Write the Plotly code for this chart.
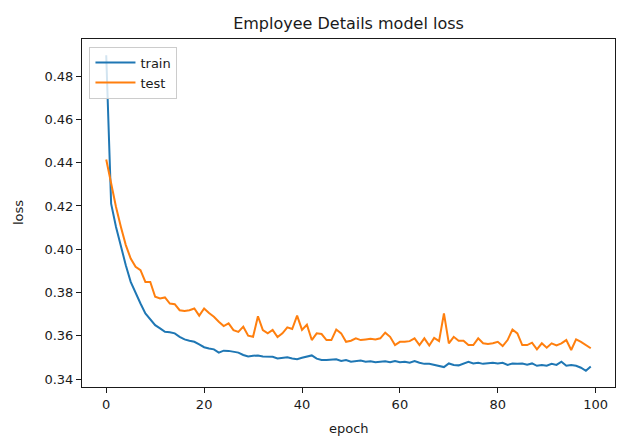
import plotly.graph_objects as go

# Per-epoch loss history of the training run
epochs = list(range(100))

train_loss = [
    0.4897, 0.4211, 0.4103, 0.4011, 0.3926, 0.3849, 0.3796, 0.3749, 0.3703, 0.3676,
    0.3649, 0.3634, 0.3618, 0.3616, 0.3611, 0.3595, 0.3583, 0.3577, 0.3572, 0.3560,
    0.3547, 0.3541, 0.3537, 0.3522, 0.3531, 0.3530, 0.3526, 0.3522, 0.3511, 0.3504,
    0.3507, 0.3509, 0.3504, 0.3505, 0.3503, 0.3495, 0.3499, 0.3500, 0.3495, 0.3491,
    0.3498, 0.3503, 0.3509, 0.3494, 0.3488, 0.3488, 0.3488, 0.3491, 0.3483, 0.3488,
    0.3480, 0.3483, 0.3485, 0.3480, 0.3482, 0.3478, 0.3480, 0.3482, 0.3478, 0.3483,
    0.3478, 0.3480, 0.3475, 0.3483, 0.3475, 0.3470, 0.3470, 0.3466, 0.3461, 0.3455,
    0.3472, 0.3465, 0.3463, 0.3472, 0.3480, 0.3472, 0.3475, 0.3470, 0.3472, 0.3475,
    0.3472, 0.3475, 0.3465, 0.3472, 0.3470, 0.3472, 0.3466, 0.3472, 0.3461, 0.3465,
    0.3461, 0.3470, 0.3465, 0.3480, 0.3461, 0.3465, 0.3461, 0.3452, 0.3438, 0.3458,
]

test_loss = [
    0.4415, 0.4300, 0.4195, 0.4103, 0.4019, 0.3957, 0.3919, 0.3903, 0.3849, 0.3849,
    0.3780, 0.3772, 0.3777, 0.3749, 0.3746, 0.3718, 0.3715, 0.3718, 0.3726, 0.3693,
    0.3726, 0.3705, 0.3688, 0.3665, 0.3645, 0.3657, 0.3626, 0.3618, 0.3642, 0.3600,
    0.3595, 0.3690, 0.3626, 0.3611, 0.3627, 0.3594, 0.3611, 0.3639, 0.3631, 0.3693,
    0.3627, 0.3651, 0.3580, 0.3611, 0.3608, 0.3580, 0.3580, 0.3629, 0.3611, 0.3572,
    0.3577, 0.3588, 0.3580, 0.3583, 0.3586, 0.3583, 0.3588, 0.3614, 0.3595, 0.3557,
    0.3572, 0.3572, 0.3575, 0.3588, 0.3557, 0.3588, 0.3555, 0.3590, 0.3575, 0.3703,
    0.3565, 0.3595, 0.3577, 0.3577, 0.3557, 0.3557, 0.3588, 0.3565, 0.3562, 0.3565,
    0.3572, 0.3552, 0.3580, 0.3629, 0.3611, 0.3557, 0.3557, 0.3568, 0.3537, 0.3565,
    0.3545, 0.3565, 0.3555, 0.3565, 0.3580, 0.3534, 0.3583, 0.3572, 0.3557, 0.3542,
]

x_ticks = [0, 20, 40, 60, 80, 100]
y_ticks = [0.34, 0.36, 0.38, 0.40, 0.42, 0.44, 0.46, 0.48]

FONT = "DejaVu Sans"
INK = "#1a1a1a"

fig = go.Figure()
fig.add_trace(go.Scatter(x=epochs, y=train_loss, mode="lines", name="train",
                         line=dict(color="#1f77b4", width=2)))
fig.add_trace(go.Scatter(x=epochs, y=test_loss, mode="lines", name="test",
                         line=dict(color="#ff7f0e", width=2)))

axis_common = dict(
    showline=True, linecolor=INK, linewidth=1, mirror=True,
    ticks="outside", ticklen=5, tickwidth=1, tickcolor=INK,
    showgrid=False, zeroline=False,
    tickfont=dict(family=FONT, size=13, color=INK),
)

fig.update_layout(
    width=617, height=437,
    margin=dict(l=82, r=2, t=39, b=50),
    paper_bgcolor="white", plot_bgcolor="white",
    font=dict(family=FONT, size=13, color=INK),
    title=dict(text="Employee Details model loss", x=0.5, xref="paper",
               y=1 - 23 / 437, yref="container", yanchor="middle",
               font=dict(family=FONT, size=16, color=INK)),
    xaxis=dict(range=[-4.95, 103.95], tickvals=x_ticks, **axis_common),
    yaxis=dict(range=[0.3363, 0.4972], tickvals=y_ticks, tickformat=".2f",
               **axis_common),
    legend=dict(x=0.014, y=0.978, xanchor="left", yanchor="top",
                bgcolor="rgba(255,255,255,0.8)", bordercolor="#cccccc",
                borderwidth=1, font=dict(family=FONT, size=13, color=INK),
                itemwidth=40, tracegroupgap=0),
    showlegend=True,
    annotations=[
        dict(text="epoch", x=0.5, y=-(428 - 387) / 348, xref="paper", yref="paper",
             showarrow=False, xanchor="center", yanchor="middle",
             font=dict(family=FONT, size=13, color=INK)),
        dict(text="loss", x=-(82 - 18) / 533, y=0.5, xref="paper", yref="paper",
             showarrow=False, xanchor="center", yanchor="middle", textangle=-90,
             font=dict(family=FONT, size=13, color=INK)),
    ],
)

fig.write_html("out.html")
